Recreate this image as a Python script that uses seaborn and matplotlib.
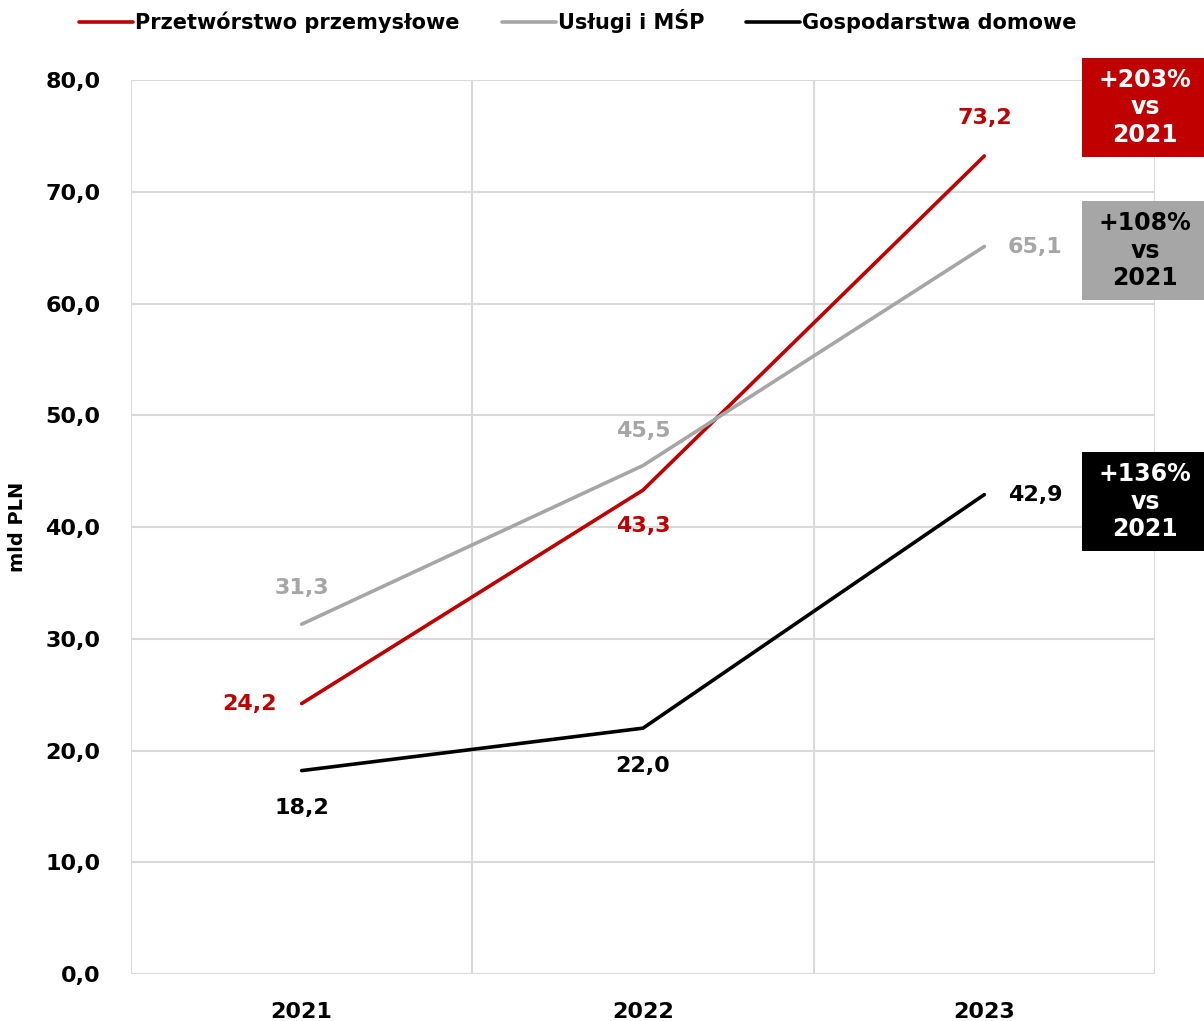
import matplotlib
matplotlib.use("Agg")
import matplotlib.pyplot as plt
import seaborn as sns
import pandas as pd
from matplotlib.patches import Rectangle

years = ["2021", "2022", "2023"]
series_names = ["Przetwórstwo przemysłowe", "Usługi i MŚP", "Gospodarstwa domowe"]
przetworstwo = [24.2, 43.3, 73.2]
uslugi = [31.3, 45.5, 65.1]
gospodarstwa = [18.2, 22.0, 42.9]
colors = ["#C00000", "#A6A6A6", "#000000"]
box_texts = ["+203%\nvs\n2021", "+108%\nvs\n2021", "+136%\nvs\n2021"]

rows = []
for name, vals in zip(series_names, [przetworstwo, uslugi, gospodarstwa]):
    for i, v in enumerate(vals):
        rows.append({"x": i, "year": years[i], "value": v, "series": name})
df = pd.DataFrame(rows)

sns.set_theme(style="white")
plt.rcParams['font.family'] = ['DejaVu Sans']
plt.rcParams['text.color'] = 'black'
plt.rcParams['xtick.color'] = 'black'
plt.rcParams['ytick.color'] = 'black'
plt.rcParams['axes.labelcolor'] = 'black'

fig = plt.figure(figsize=(12.04, 10.21), dpi=100)
ax = fig.add_axes([131/1204, 1-974/1021, (1155-131)/1204, (974-80)/1021])

sns.lineplot(data=df, x="x", y="value", hue="series", hue_order=series_names,
             palette=colors, linewidth=2.6, ax=ax, legend=True)

ax.set_xlim(-0.5, 2.5)
ax.set_ylim(0, 80)
ax.set_yticks(range(0, 81, 10))
ax.set_yticklabels([f"{v:.1f}".replace(".", ",") for v in range(0, 81, 10)],
                   fontsize=16, fontweight="bold")
ax.set_xticks([0, 1, 2])
ax.set_xticklabels(years, fontsize=16, fontweight="bold")
ax.tick_params(axis="x", pad=20, length=0, colors="black")
ax.tick_params(axis="y", pad=22, length=0, colors="black")
ax.set_xlabel("")
ax.set_ylabel("mld PLN", fontsize=14, fontweight="bold", color="black")
ax.yaxis.set_label_coords((27 - 131) / 1024, 0.5)
for sp in ax.spines.values():
    sp.set_visible(False)
for yv in range(0, 81, 10):
    ax.axhline(yv, color="#D9D9D9", lw=1.5, zorder=0)
for xv in [-0.5, 0.5, 1.5, 2.5]:
    ax.axvline(xv, color="#D9D9D9", lw=1.5, zorder=0)

fmt = lambda v: f"{v:.1f}".replace(".", ",")
fs = 16
label_pos = {
    0: [(-18, 0, "right", "center"), (0, 26, "center", "center"), (0, -27, "center", "center")],
    1: [(0, -26, "center", "center"), (0, 25, "center", "center"), (0, -27, "center", "center")],
    2: [(0, 27, "center", "center"), (17, 0, "left", "center"), (17, 0, "left", "center")],
}
for si, vals in enumerate([przetworstwo, uslugi, gospodarstwa]):
    for i, v in enumerate(vals):
        dx, dy, ha, va = label_pos[i][si]
        ax.annotate(fmt(v), (i, v), xytext=(dx, dy), textcoords="offset points",
                    ha=ha, va=va, fontsize=fs, fontweight="bold", color=colors[si])

leg = ax.legend(loc="upper center", bbox_to_anchor=(0.48, 1.003), bbox_transform=fig.transFigure,
                ncol=3, frameon=False, fontsize=15, handlelength=2.6, handletextpad=0.1,
                columnspacing=2.0, borderaxespad=0.2)
for t in leg.get_texts():
    t.set_fontweight("bold")
    t.set_color("black")
for h in leg.get_lines():
    h.set_linewidth(2.6)

box_tops = [58, 201, 452]
text_colors = ["white", "black", "white"]
for top, txt, c, tc in zip(box_tops, box_texts, colors, text_colors):
    x0 = 1082/1204
    w = 122/1204
    h = 99/1021
    y0 = 1 - (top + 99)/1021
    fig.patches.append(Rectangle((x0, y0), w, h, transform=fig.transFigure,
                                 facecolor=c, edgecolor="none", zorder=5))
    fig.text(x0 + w/2 + 2/1204, y0 + h/2, txt, ha="center", va="center", fontsize=17,
             fontweight="bold", color=tc, linespacing=1.2, zorder=6)

fig.savefig("out.png", dpi=100)
